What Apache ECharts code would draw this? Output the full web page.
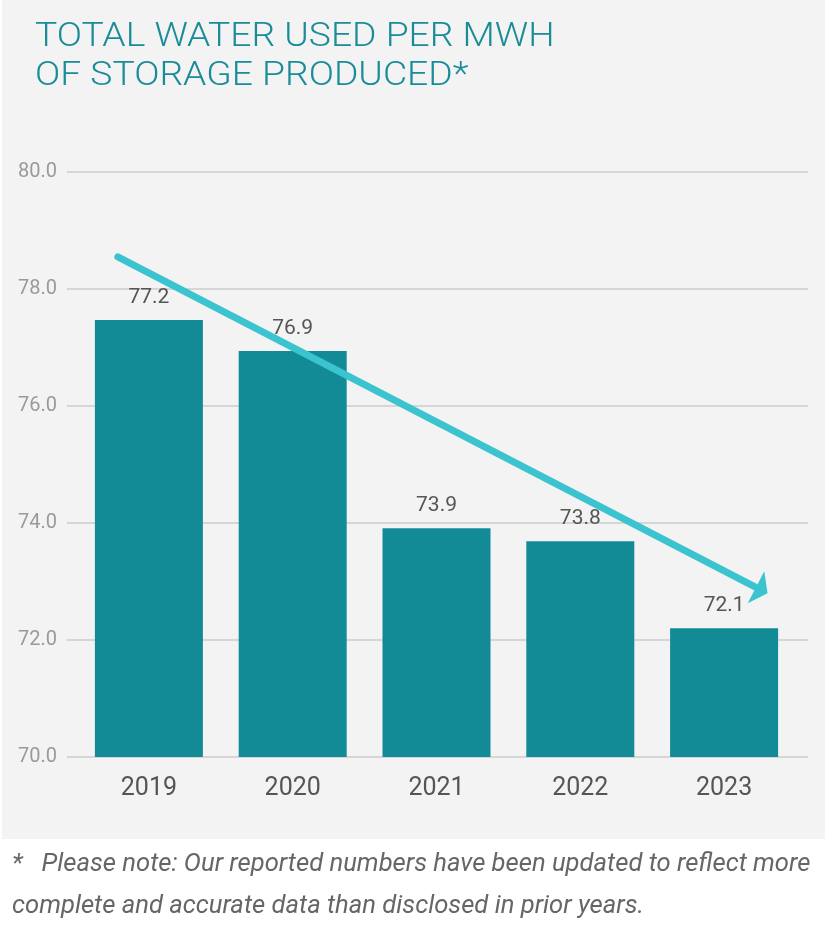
<!DOCTYPE html>
<html>
<head>
<meta charset="utf-8">
<script src="https://cdn.jsdelivr.net/npm/echarts@6/dist/echarts.min.js"></script>
<style>
  html, body { margin: 0; padding: 0; background: #ffffff; }
  #chart { width: 835px; height: 925px; }
</style>
</head>
<body>
<div id="chart"></div>
<script>
// ---- data ----
var years = ['2019', '2020', '2021', '2022', '2023'];
var barValues = [77.47, 76.94, 73.91, 73.69, 72.2];   // bar heights as drawn
var barLabels = ['77.2', '76.9', '73.9', '73.8', '72.1']; // printed labels
var yTicks = [70, 72, 74, 76, 78, 80];
var trendStart = [-0.216, 78.55];  // [category index, value]
var trendEnd = [4.262, 72.85];
var titleLines = ['TOTAL WATER USED PER MWH', 'OF STORAGE PRODUCED*'];
var noteLines = ['*   Please note: Our reported numbers have been updated to reflect more',
                 'complete and accurate data than disclosed in prior years.'];

var chart = echarts.init(document.getElementById('chart'), null, { renderer: 'canvas' });

var option = {
  backgroundColor: '#ffffff',
  animation: false,
  graphic: [
    { type: 'rect', z: -100, silent: true, shape: { x: 2, y: 0, width: 823, height: 839 }, style: { fill: '#f3f3f3' } },
    { type: 'text', x: 35, y: 21, scaleX: 1.13, style: { text: titleLines[0], font: '300 33px Roboto', fill: '#1a8c98' } },
    { type: 'text', x: 35, y: 60, scaleX: 1.13, style: { text: titleLines[1], font: '300 33px Roboto', fill: '#1a8c98' } },
    { type: 'text', x: 12, y: 864, scaleX: 0.985, style: { text: noteLines[0], font: 'italic 26px Roboto', fill: '#666666', verticalAlign: 'middle' } },
    { type: 'text', x: 12, y: 906, scaleX: 0.985, style: { text: noteLines[1], font: 'italic 26px Roboto', fill: '#666666', verticalAlign: 'middle' } }
  ],
  grid: [
    { left: 67, right: 27, top: 172, bottom: 168 },
    { left: 77, right: 39, top: 172, bottom: 168 }
  ],
  xAxis: [
    { type: 'category', gridIndex: 1, data: years,
      axisLine: { show: false }, axisTick: { show: false },
      axisLabel: { color: '#555555', fontSize: 25, fontFamily: 'Roboto', margin: 19 } },
    { type: 'value', gridIndex: 1, min: -0.5, max: 4.5, show: false },
    { type: 'value', gridIndex: 0, min: 0, max: 1, show: false }
  ],
  yAxis: [
    { type: 'value', gridIndex: 0, min: yTicks[0], max: yTicks[yTicks.length - 1], interval: 2,
      axisLine: { show: false }, axisTick: { show: false },
      splitLine: { lineStyle: { color: '#d6d6d6', width: 2 } },
      axisLabel: { color: '#9a9a9a', fontSize: 20, fontFamily: 'Roboto', margin: 10,
        formatter: function (v) { return v.toFixed(1); } } },
    { type: 'value', gridIndex: 1, min: yTicks[0], max: yTicks[yTicks.length - 1], show: false }
  ],
  series: [
    { type: 'bar', xAxisIndex: 0, yAxisIndex: 1, data: barValues, barWidth: 108,
      itemStyle: { color: '#138b97' },
      label: { show: true, position: 'top', distance: 12, color: '#555555', fontSize: 21, fontFamily: 'Roboto',
        formatter: function (p) { return barLabels[p.dataIndex]; } } },
    { type: 'line', xAxisIndex: 1, yAxisIndex: 1, data: [], z: 5,
      markLine: { silent: true, symbol: ['none', 'path://M0,0 L20,12 L-20,12 Z'], symbolSize: [36, 13],
        label: { show: false },
        lineStyle: { color: '#3bc3cf', width: 7, type: 'solid', cap: 'round' },
        emphasis: { disabled: true },
        data: [[ { coord: trendStart }, { coord: trendEnd } ]] } }
  ]
};
chart.setOption(option);
</script>
</body>
</html>
